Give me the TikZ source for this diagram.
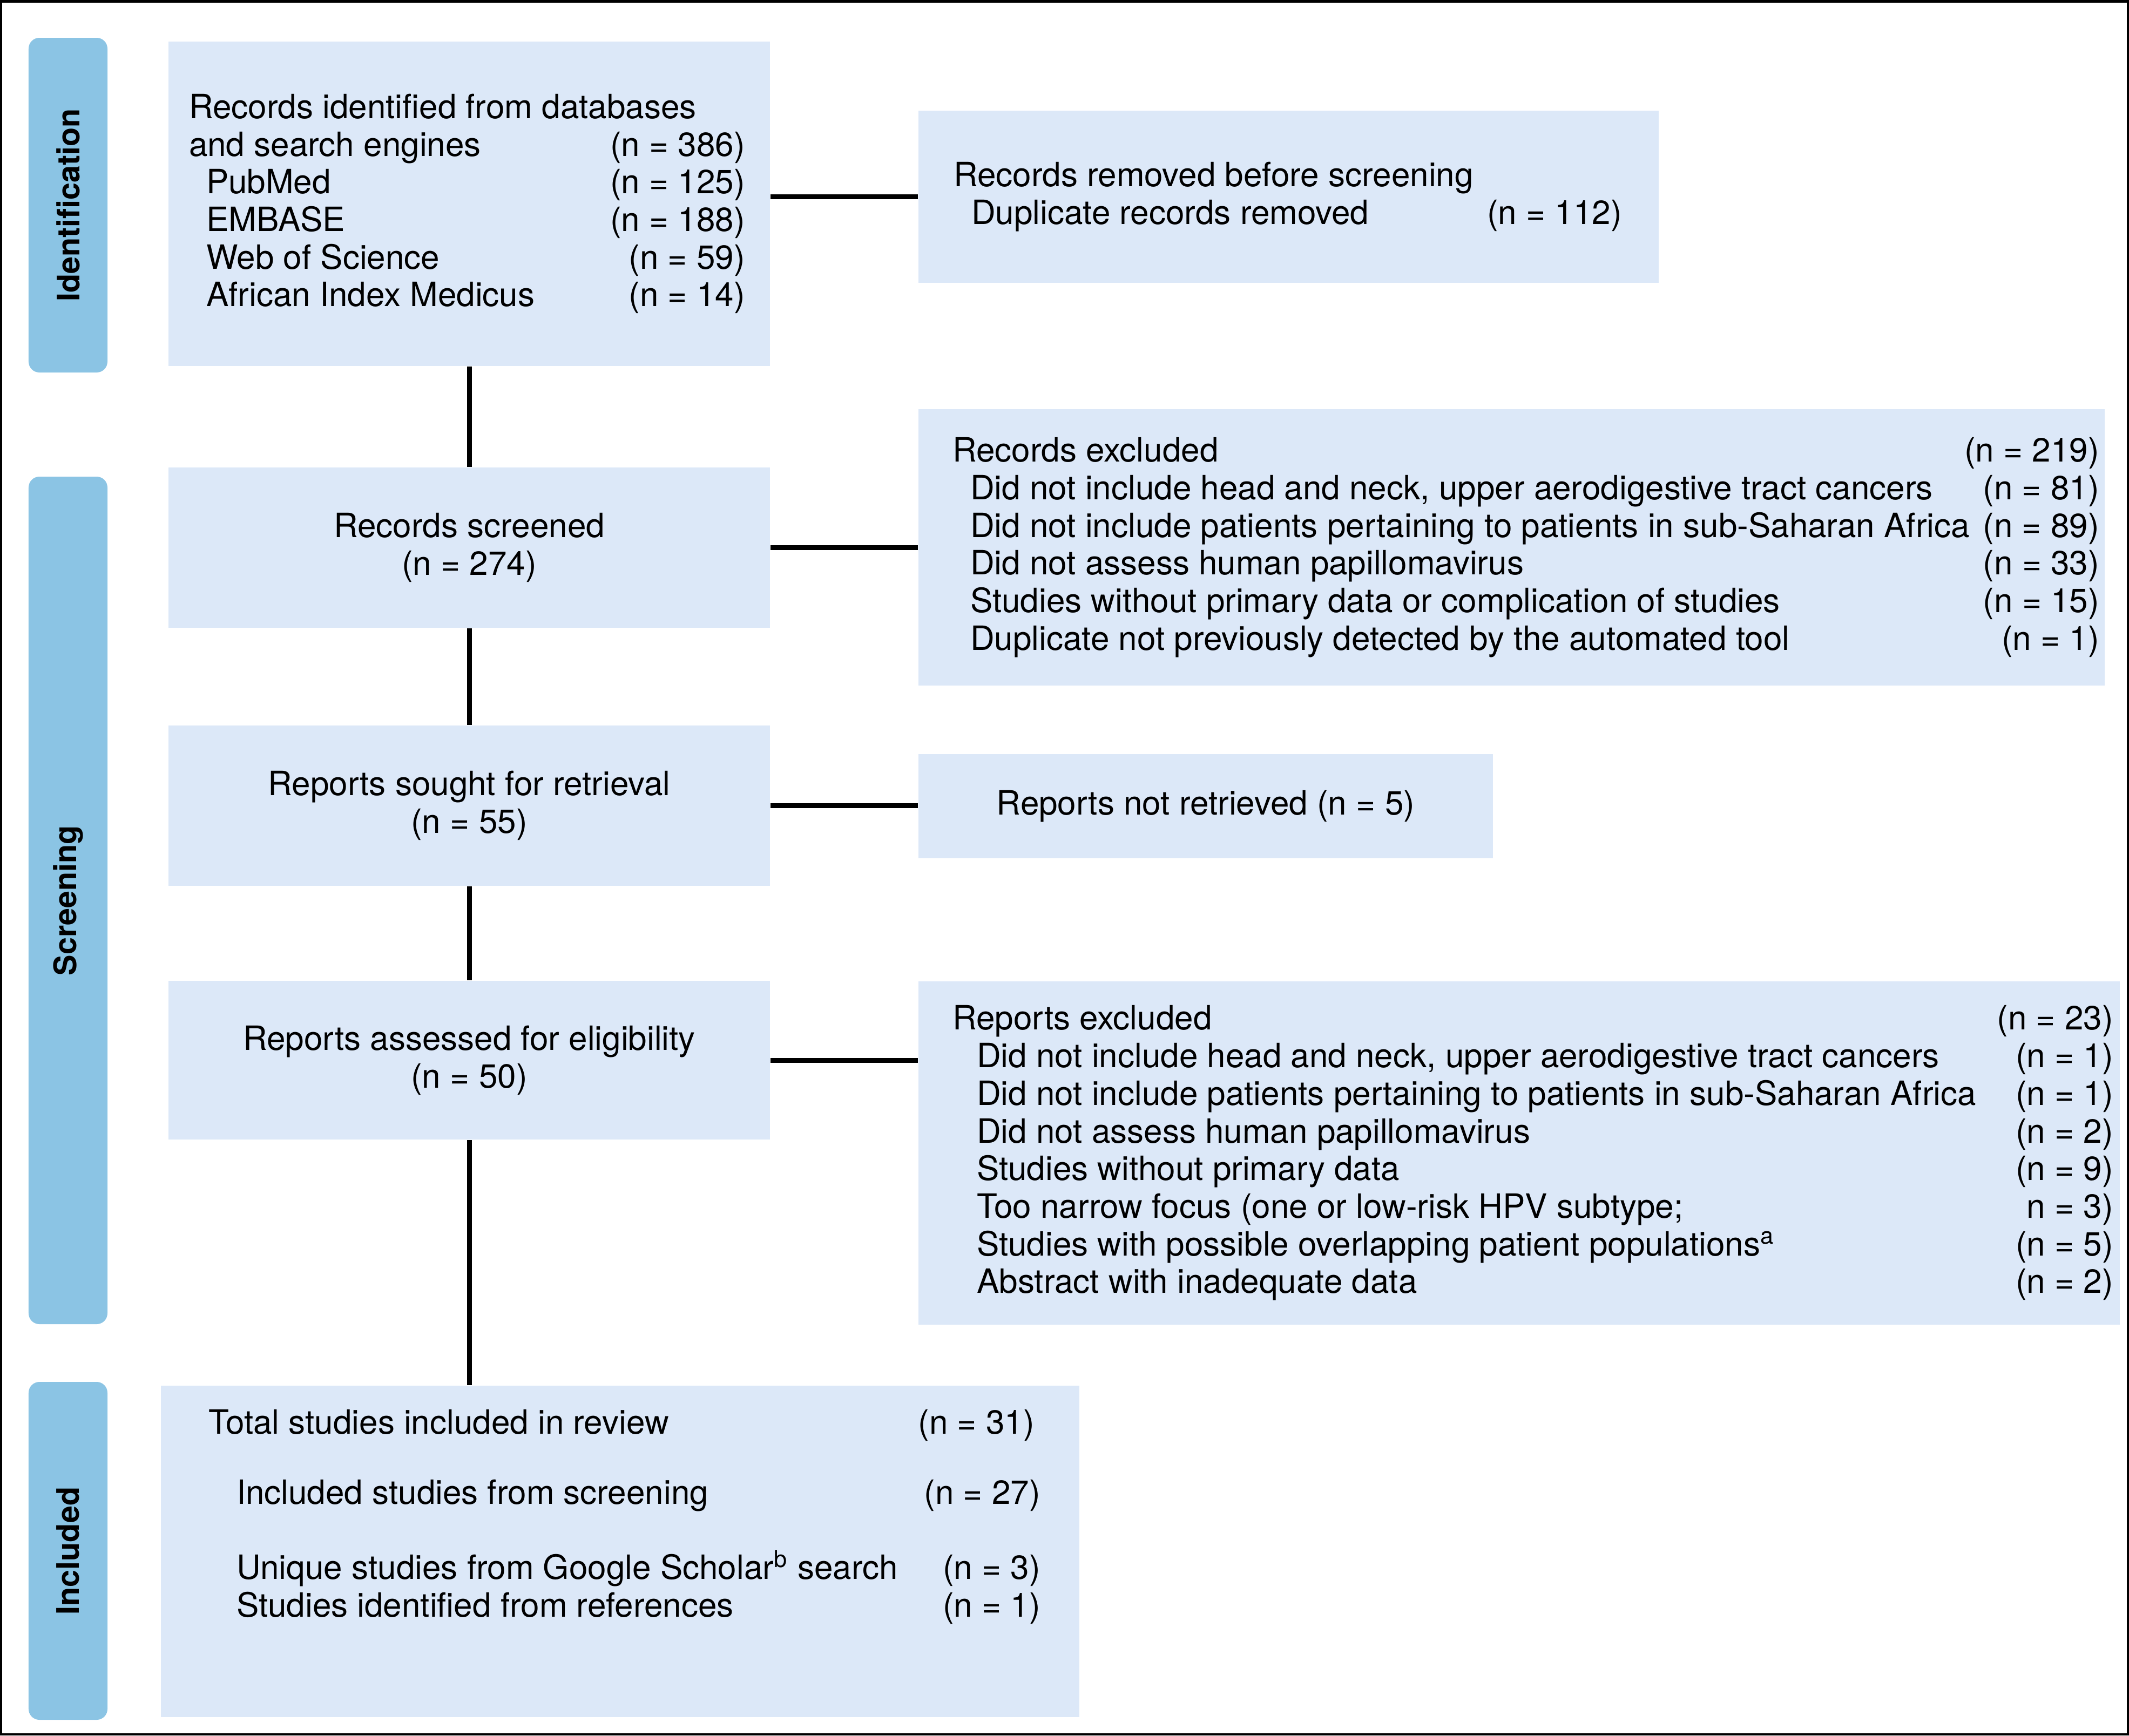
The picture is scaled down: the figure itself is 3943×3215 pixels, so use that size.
\documentclass[tikz,border=0pt]{standalone}
\usepackage{fontspec}
\setmainfont{TeX Gyre Heros}
\usepackage{tikz}
\usetikzlibrary{calc}
\definecolor{barblue}{RGB}{139,196,228}
\definecolor{boxblue}{RGB}{220,232,248}
\newcommand{\boxfont}{\fontsize{12.4pt}{13.94pt}\selectfont}
\newcommand{\barfont}{\fontsize{11.5pt}{13pt}\selectfont\bfseries}
\newcommand{\nrow}[2]{\hbox to \hsize{#1\hfill#2}}
\tikzset{
  stagebar/.style = {fill = barblue, rounded corners = 4pt, rotate = 90, inner sep = 0pt, minimum height = 29.2pt, font = \barfont},
  flowbox/.style = {fill = boxblue, inner sep = 0pt, anchor = north west, font = \boxfont},
  link/.style = {line width = 1.8pt}
}

\begin{document}
\begin{tikzpicture}[x = 0.2pt, y = -0.2pt]
\useasboundingbox (0,0) rectangle (3943,3215);
\draw[line width = 0.9pt] (2.25,2.25) rectangle (3940.75,3212.75);

\node[stagebar, minimum width = 124pt] (idbar) at (126,380) {Identification};
\node[stagebar, minimum width = 314pt] (scrbar) at (126,1668) {Screening};
\node[stagebar, minimum width = 125.2pt] (incbar) at (126,2873) {Included};

\node[flowbox, minimum width = 222.8pt, minimum height = 120.2pt] (ident) at (311,76)
  {\hspace*{7.6pt}\parbox{206pt}{%
   \nrow{Records identified from databases}{}
   \nrow{and search engines}{(n = 386)}
   \nrow{\hspace*{6.4pt}PubMed}{(n = 125)}
   \nrow{\hspace*{6.4pt}EMBASE}{(n = 188)}
   \nrow{\hspace*{6.4pt}Web of Science}{(n = 59)}
   \nrow{\hspace*{6.4pt}African Index Medicus}{(n = 14)}}\hspace*{9.2pt}};
\node[flowbox, minimum width = 274.2pt, minimum height = 63.8pt] (removed) at (1700,204)
  {\hspace*{13pt}\parbox{247.6pt}{%
   \nrow{Records removed before screening}{}
   \nrow{\hspace*{6.6pt}Duplicate records removed}{(n = 112)}}\hspace*{13.6pt}};

\node[flowbox, minimum width = 222.8pt, minimum height = 59.4pt, align = center] (screened) at (311,865) {Records screened\\(n = 274)};
\node[flowbox, minimum width = 439.4pt, minimum height = 102.4pt] (recexcl) at (1700,757)
  {\hspace*{12.6pt}\parbox{424.8pt}{%
   \nrow{Records excluded}{(n = 219)}
   \nrow{\hspace*{6.6pt}Did not include head and neck, upper aerodigestive tract cancers}{(n = 81)}
   \nrow{\hspace*{6.6pt}Did not include patients pertaining to patients in sub-Saharan Africa}{(n = 89)}
   \nrow{\hspace*{6.6pt}Did not assess human papillomavirus}{(n = 33)}
   \nrow{\hspace*{6.6pt}Studies without primary data or complication of studies}{(n = 15)}
   \nrow{\hspace*{6.6pt}Duplicate not previously detected by the automated tool}{(n = 1)}}\hspace*{2pt}};

\node[flowbox, minimum width = 222.8pt, minimum height = 59.4pt, align = center] (sought) at (311,1343) {Reports sought for retrieval\\(n = 55)};
\node[flowbox, minimum width = 212.8pt, minimum height = 38.6pt] (notretr) at (1700,1396) {Reports not retrieved (n = 5)};

\node[flowbox, minimum width = 222.8pt, minimum height = 58.8pt, align = center] (assessed) at (311,1816) {Reports assessed for eligibility\\(n = 50)};
\node[flowbox, minimum width = 445pt, minimum height = 127.2pt] (repexcl) at (1700,1817)
  {\hspace*{12.6pt}\parbox{430pt}{%
   \nrow{Reports excluded}{(n = 23)}
   \nrow{\hspace*{9pt}Did not include head and neck, upper aerodigestive tract cancers}{(n = 1)}
   \nrow{\hspace*{9pt}Did not include patients pertaining to patients in sub-Saharan Africa}{(n = 1)}
   \nrow{\hspace*{9pt}Did not assess human papillomavirus}{(n = 2)}
   \nrow{\hspace*{9pt}Studies without primary data}{(n = 9)}
   \nrow{\hspace*{9pt}Too narrow focus (one or low-risk HPV subtype;}{n = 3)}
   \nrow{\hspace*{9pt}Studies with possible overlapping patient populations\textsuperscript{a}}{(n = 5)}
   \nrow{\hspace*{9pt}Abstract with inadequate data}{(n = 2)}}\hspace*{2.4pt}};

\node[flowbox, minimum width = 340.2pt, minimum height = 122.8pt] (incl) at (297,2566)
  {\hspace*{17.6pt}\parbox{308.2pt}{%
   \nrow{Total studies included in review}{(n = 31)\hspace*{2.2pt}}
   \vspace{12.06pt}
   \nrow{\hspace*{10.4pt}Included studies from screening}{(n = 27)}
   \vspace{13.86pt}
   \nrow{\hspace*{10.4pt}Unique studies from Google Scholar\textsuperscript{b} search}{(n = 3)}
   \nrow{\hspace*{10.4pt}Studies identified from references}{(n = 1)\rule[-28.4pt]{0pt}{28.4pt}}}\hspace*{14.4pt}};

\draw[link] (ident.south) -- (screened.north);
\draw[link] (screened.south) -- (sought.north);
\draw[link] (sought.south) -- (assessed.north);
\draw[link] (assessed.south) -- (assessed.south |- incl.north);
\draw[link] (ident.east |- removed.west) -- (removed.west);
\draw[link] (screened.east) -- (screened.east -| recexcl.west);
\draw[link] (sought.east) -- (sought.east -| notretr.west);
\draw[link] (assessed.east) -- (assessed.east -| repexcl.west);
\end{tikzpicture}
\end{document}
